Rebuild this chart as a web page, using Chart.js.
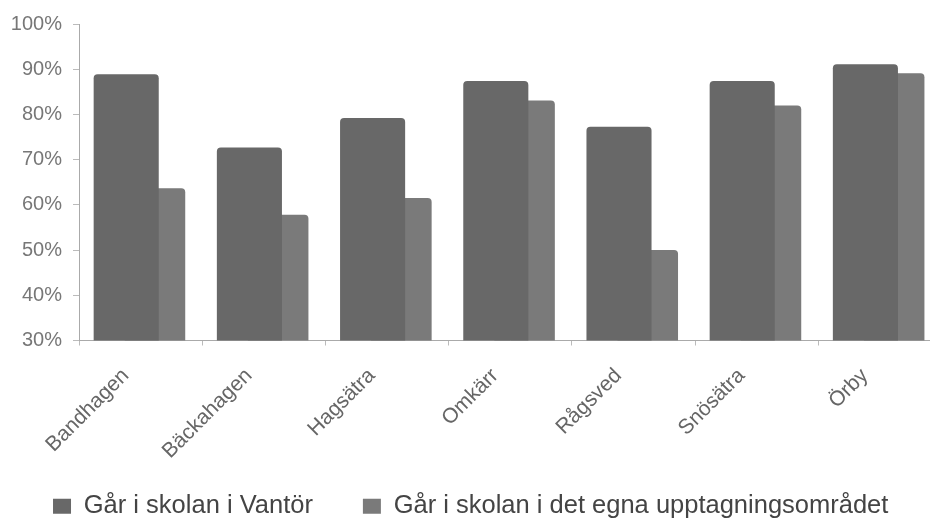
<!DOCTYPE html>
<html>
<head>
<meta charset="utf-8">
<script src="https://cdn.jsdelivr.net/npm/chart.js@4"></script>
<style>
  html, body { margin: 0; padding: 0; background: #fff; overflow: hidden; }
  #wrap { width: 945px; height: 529px; }
</style>
</head>
<body>
<div id="wrap"><canvas id="grafica"></canvas></div>
<script>
// omraden och andelar (procent)
var omraden = ['Bandhagen', 'Bäckahagen', 'Hagsätra', 'Omkärr', 'Rågsved', 'Snösätra', 'Örby'];
var vantor = [88.9, 72.7, 79.2, 87.4, 77.3, 87.4, 91.1];
var egnaOmradet = [63.7, 57.8, 61.5, 83.1, 50.0, 82.0, 89.1];
var serienamn = ['Går i skolan i Vantör', 'Går i skolan i det egna upptagningsområdet'];

Chart.defaults.font.family = "'Liberation Sans', Arial, sans-serif";

var ctx = document.getElementById('grafica').getContext('2d');

var grafica = new Chart(ctx, {
  type: 'bar',
  data: {
    labels: omraden,
    datasets: [{
      label: serienamn[0],
      data: vantor,
      backgroundColor: '#686868',
      barPercentage: 2.26,
      borderRadius: { topLeft: 4, topRight: 4 },
      borderSkipped: 'start'
    }, {
      label: serienamn[1],
      data: egnaOmradet,
      backgroundColor: '#7a7a7a',
      barPercentage: 2.1,
      borderRadius: { topLeft: 4, topRight: 4 },
      borderSkipped: 'start'
    }]
  },
  options: {
    responsive: true,
    maintainAspectRatio: false,
    animation: false,
    categoryPercentage: 0.4675,
    layout: {
      padding: { top: 24, right: 3.6, bottom: 0, left: 0 }
    },
    plugins: {
      tooltip: { enabled: false },
      legend: {
        position: 'bottom',
        labels: {
          boxWidth: 18,
          boxHeight: 15,
          padding: 50,
          color: '#444',
          font: { size: 25.5 }
        }
      }
    },
    scales: {
      x: {
        grid: { drawOnChartArea: false, tickLength: 5, color: '#bbb' },
        border: { color: '#aaa' },
        ticks: {
          maxRotation: 45,
          minRotation: 45,
          labelOffset: -15,
          padding: 18,
          color: '#666',
          font: { size: 21 }
        },
        afterFit: function (scale) {
          scale.height = 103;
          // de lutade etiketterna går ner i legendens ruta, klipp dem inte
          scale._computeLabelArea = function () {};
        }
      },
      y: {
        min: 30,
        max: 100,
        grid: { drawOnChartArea: false, tickLength: 6, color: '#bbb' },
        border: { color: '#aaa' },
        ticks: {
          stepSize: 10,
          padding: 11,
          color: '#777',
          font: { size: 20 },
          callback: function (v) { return v + '%'; }
        },
        afterFit: function (scale) { scale.width = 79; }
      }
    }
  }
});
</script>
</body>
</html>
